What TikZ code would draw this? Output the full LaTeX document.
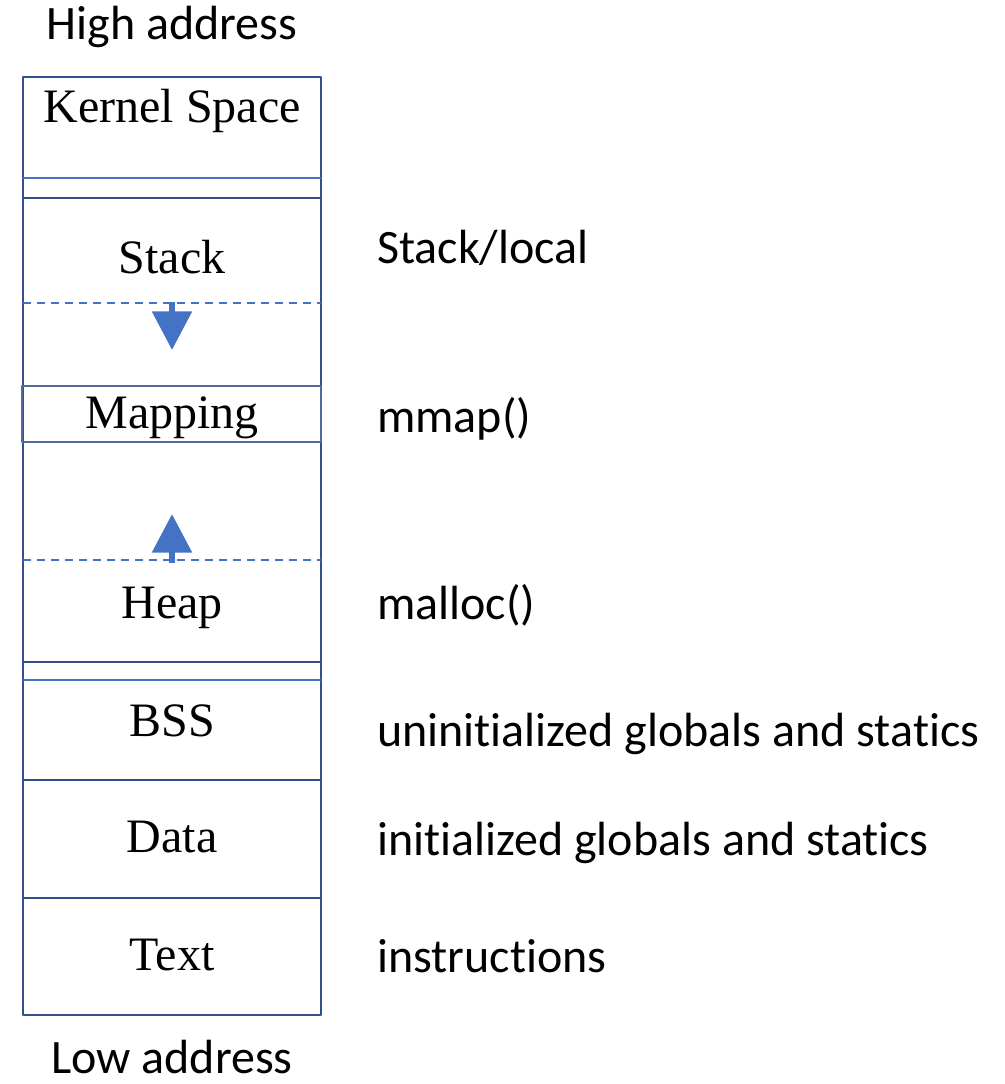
\documentclass[tikz,border=0pt]{standalone}
\usepackage{fontspec}
\setmainfont{Liberation Serif}
\newfontfamily\calibrifont[Ligatures=NoCommon]{Carlito}
\usetikzlibrary{arrows.meta}
\definecolor{boxblue}{HTML}{2F528F}
\definecolor{lineblue}{HTML}{4472C4}

\begin{document}
\begin{tikzpicture}[x=0.75pt,y=-0.75pt,line join=bevel,
  segname/.style={anchor=base,inner sep=0pt,font=\fontsize{36}{40}\selectfont},
  usage/.style={anchor=base west,inner sep=0pt,font=\calibrifont\fontsize{36}{40}\selectfont},
  edge/.style={draw=boxblue,line width=2pt},
  thinedge/.style={draw=lineblue,line width=1.8pt},
  limit/.style={draw=lineblue,line width=1.8pt,dash pattern=on 6pt off 4.5pt},
  grows/.style={draw=lineblue,line width=5pt,-{Triangle[width=29pt,length=29pt]}}]
\useasboundingbox (0,0) rectangle (1005,1084);
%%
\node (high) at (172,40) [usage,anchor=base] {High address};
\node (low) at (172,1073) [usage,anchor=base] {Low address};
%
\draw [edge] (23,77) rectangle (321,1015);
\draw [thinedge] (23,178) -- (321,178);
\draw [edge] (23,198) -- (321,198);
\draw [edge,draw=boxblue!85] (22,386) rectangle (321,442);
\draw [edge] (23,662) -- (321,662);
\draw [thinedge] (23,680) -- (321,680);
\draw [edge] (23,780) -- (321,780);
\draw [edge] (23,898) -- (321,898);
\draw [limit] (23,303) -- (321,303);
\draw [limit] (23,560) -- (321,560);
%
\node (kernel) at (172,123) [segname] {Kernel Space};
\node (stack) at (172,273) [segname] {Stack};
\node (mapping) at (172,428) [segname] {Mapping};
\node (heap) at (172,618) [segname] {Heap};
\node (bss) at (172,736) [segname] {BSS};
\node (data) at (172,852) [segname] {Data};
\node (text) at (172,970) [segname] {Text};
%
\node (stack_use) at (377,263) [usage] {Stack/local};
\node (mapping_use) at (377,432) [usage] {mmap()};
\node (heap_use) at (377,619) [usage] {malloc()};
\node (bss_use) at (377,746) [usage] {uninitialized globals and statics};
\node (data_use) at (377,855) [usage] {initialized globals and statics};
\node (text_use) at (377,972) [usage] {instructions};
%
\coordinate (stack_end) at (172,302);
\coordinate (stack_tip) at (172,350);
\coordinate (heap_end) at (172,563);
\coordinate (heap_tip) at (172,514);
\draw [grows] (stack_end) -- (stack_tip);
\draw [grows] (heap_end) -- (heap_tip);
%
\end{tikzpicture}
\end{document}
